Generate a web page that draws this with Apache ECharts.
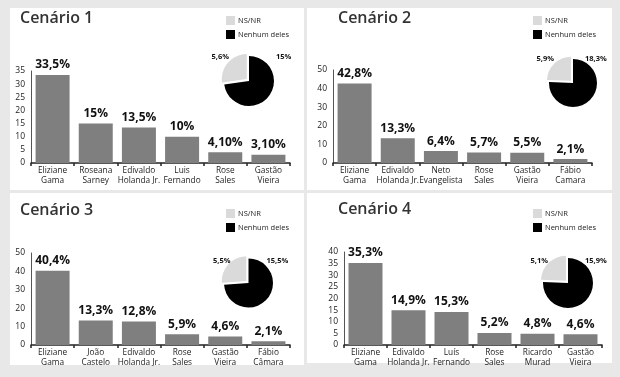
<!DOCTYPE html>
<html>
<head>
<meta charset="utf-8">
<script src="https://cdn.jsdelivr.net/npm/echarts@6/dist/echarts.min.js"></script>
<style>
html,body{margin:0;padding:0;background:#e8e8e8;}
#c{width:620px;height:377px;}
</style>
</head>
<body>
<div id="c"></div>
<script>
// ---- data ----
const titles = ['Cenário 1', 'Cenário 2', 'Cenário 3', 'Cenário 4'];

const cats1 = ['Eliziane\nGama', 'Roseana\nSarney', 'Edivaldo\nHolanda Jr.', 'Luis\nFernando', 'Rose\nSales', 'Gastão\nVieira'];
const vals1 = [33.5, 15, 13.5, 10, 4.1, 3.1];
const labs1 = ['33,5%', '15%', '13,5%', '10%', '4,10%', '3,10%'];

const cats2 = ['Eliziane\nGama', 'Edivaldo\nHolanda Jr.', 'Neto\nEvangelista', 'Rose\nSales', 'Gastão\nVieira', 'Fábio\nCamara'];
const vals2 = [42.8, 13.3, 6.4, 5.7, 5.5, 2.1];
const labs2 = ['42,8%', '13,3%', '6,4%', '5,7%', '5,5%', '2,1%'];

const cats3 = ['Eliziane\nGama', 'João\nCastelo', 'Edivaldo\nHolanda Jr.', 'Rose\nSales', 'Gastão\nVieira', 'Fábio\nCâmara'];
const vals3 = [40.4, 13.3, 12.8, 5.9, 4.6, 2.1];
const labs3 = ['40,4%', '13,3%', '12,8%', '5,9%', '4,6%', '2,1%'];

const cats4 = ['Eliziane\nGama', 'Edivaldo\nHolanda Jr.', 'Luís\nFernando', 'Rose\nSales', 'Ricardo\nMurad', 'Gastão\nVieira'];
const vals4 = [35.3, 14.9, 14.2, 5.2, 4.8, 4.6];
const labs4 = ['35,3%', '14,9%', '15,3%', '5,2%', '4,8%', '4,6%'];

const pieNames = ['Nenhum deles', 'NS/NR'];
const pie1 = [15, 5.6];   const pieLabs1 = ['15%', '5,6%'];
const pie2 = [18.3, 5.9]; const pieLabs2 = ['18,3%', '5,9%'];
const pie3 = [15.5, 5.5]; const pieLabs3 = ['15,5%', '5,5%'];
const pie4 = [15.9, 5.1]; const pieLabs4 = ['15,9%', '5,1%'];

const yMax = [35, 50, 50, 40];
const yInterval = [5, 10, 10, 5];

// ---- layout (styles / positions) ----
const FONT = "'Open Sans', 'Noto Sans', sans-serif";
const layout = [
  {title:[20, 10], grid:{left:31, right:330, top:71, bottom:214}, legend:[226, 16], pie:[249, 81, 25], pl:[-20, 27, -24]},
  {title:[338, 10], grid:{left:333, right:28, top:70, bottom:214}, legend:[533, 16], pie:[573, 83, 24], pl:[-19, 12, -24]},
  {title:[20, 202], grid:{left:31, right:330, top:253, bottom:32}, legend:[226, 209], pie:[248.5, 283, 24.5], pl:[-18, 18, -22]},
  {title:[338, 201], grid:{left:344, right:18, top:252, bottom:32}, legend:[533, 209], pie:[568, 283, 25], pl:[-20, 17, -22]}
];

const cats = [cats1, cats2, cats3, cats4];
const vals = [vals1, vals2, vals3, vals4];
const labs = [labs1, labs2, labs3, labs4];
const pies = [pie1, pie2, pie3, pie4];
const pieLabs = [pieLabs1, pieLabs2, pieLabs3, pieLabs4];

const option = {
  backgroundColor: '#e8e8e8',
  animation: false,
  graphic: [
    {type:'rect', shape:{x:10, y:8, width:294, height:182}, style:{fill:'#fff'}, silent:true, z:-10},
    {type:'rect', shape:{x:307, y:8, width:305, height:182}, style:{fill:'#fff'}, silent:true, z:-10},
    {type:'rect', shape:{x:10, y:193, width:294, height:172}, style:{fill:'#fff'}, silent:true, z:-10},
    {type:'rect', shape:{x:307, y:193, width:305, height:170}, style:{fill:'#fff'}, silent:true, z:-10}
  ],
  title: [], legend: [], grid: [], xAxis: [], yAxis: [], series: []
};

for (let i = 0; i < 4; i++) {
  const L = layout[i];
  option.title.push({
    text: titles[i], left: L.title[0], top: L.title[1], padding: 0,
    textStyle: {fontFamily: FONT, fontSize: 16, fontWeight: 600, color: '#333'}
  });
  option.legend.push({
    data: ['NS/NR', 'Nenhum deles'], orient: 'vertical', left: L.legend[0], top: L.legend[1],
    padding: 0, itemWidth: 9, itemHeight: 9, itemGap: 5, icon: 'rect', selectedMode: false,
    textStyle: {fontFamily: FONT, fontSize: 7.5, color: '#222', padding: [0, 0, 0, -2]}
  });
  option.grid.push(Object.assign({containLabel: false}, L.grid));
  option.xAxis.push({
    type: 'category', gridIndex: i, data: cats[i],
    axisLine: {lineStyle: {color: '#222', width: 1.5}},
    axisTick: {show: true, length: 3, lineStyle: {color: '#222', width: 1.5}},
    axisLabel: {fontFamily: FONT, fontSize: 8.3, color: '#222', lineHeight: 9.5, margin: 3, interval: 0}
  });
  option.yAxis.push({
    type: 'value', gridIndex: i, min: 0, max: yMax[i], interval: yInterval[i],
    splitLine: {show: false},
    axisLine: {show: true, lineStyle: {color: '#555', width: 1}},
    axisTick: {show: false},
    axisLabel: {fontFamily: FONT, fontSize: 8.5, color: '#222', margin: 6}
  });
  const lab = labs[i];
  option.series.push({
    type: 'bar', xAxisIndex: i, yAxisIndex: i, data: vals[i], barWidth: 34,
    silent: true,
    itemStyle: {color: '#7f7f7f'},
    label: {show: true, position: 'top', distance: 4, formatter: p => lab[p.dataIndex],
      fontFamily: FONT, fontSize: 12, fontWeight: 'bold', color: '#111'}
  });
  const cx = L.pie[0], cy = L.pie[1];
  option.series.push({
    type: 'pie', center: [cx, cy], radius: L.pie[2], startAngle: 90, clockwise: true,
    silent: true, avoidLabelOverlap: false, selectedMode: 'single', selectedOffset: 3,
    data: pies[i].map((v, k) => ({
      name: pieNames[k], value: v, selected: k === 1,
      itemStyle: {color: k === 0 ? '#000' : '#dadada'}
    })),
    label: {show: false},
    labelLine: {show: false}
  });
  // pie value labels (text taken from pieLabs arrays)
  const pl = pieLabs[i];
  option.graphic.push({
    type: 'text', x: cx + L.pl[0], y: cy + L.pl[2], silent: true,
    style: {text: pl[1], align: 'right', verticalAlign: 'middle', font: "bold 7.5px " + FONT, fill: '#111'}
  });
  option.graphic.push({
    type: 'text', x: cx + L.pl[1], y: cy + L.pl[2], silent: true,
    style: {text: pl[0], align: 'left', verticalAlign: 'middle', font: "bold 7.5px " + FONT, fill: '#111'}
  });
}

const chart = echarts.init(document.getElementById('c'), null, {renderer: 'canvas'});
chart.setOption(option);
</script>
</body>
</html>
